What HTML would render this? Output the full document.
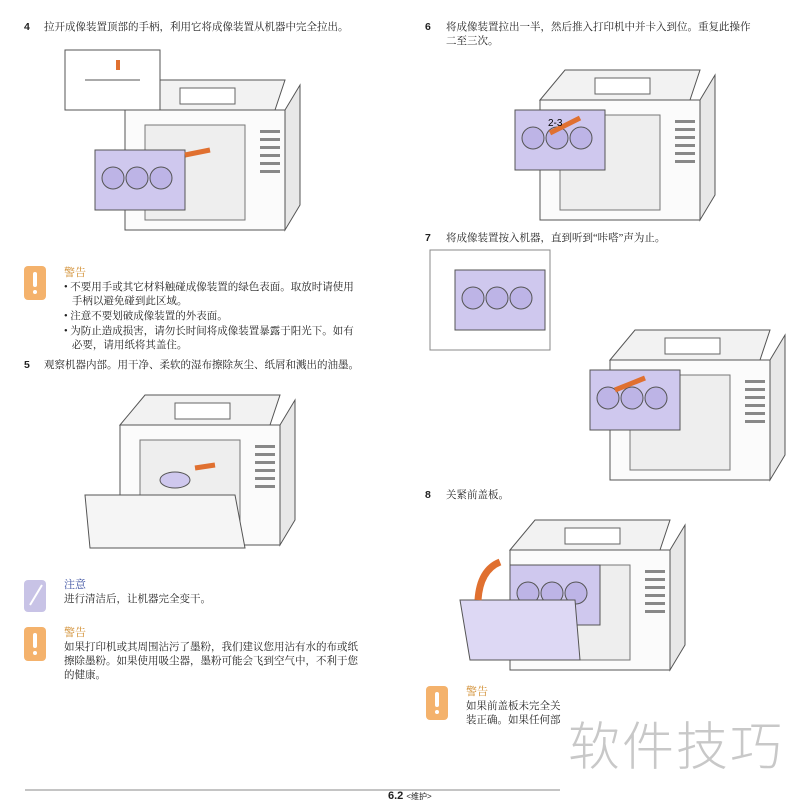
<!DOCTYPE html>
<html><head><meta charset="utf-8"><style>
body{margin:0;width:800px;height:800px;background:#fff;position:relative;overflow:hidden;font-family:"Liberation Serif","Noto Serif CJK SC",serif;color:#222}
.t{position:absolute;font-size:10.5px;line-height:14px}
.n{position:absolute;font-family:"Liberation Sans",sans-serif;font-weight:bold;font-size:10.5px}
.h{color:#d08a2a;font-size:11px}
.hb{color:#3a4fa0;font-size:11px}
.warn{position:absolute;width:22px;height:34px;background:#f4b26c;border-radius:4px}
.warn:after{content:"";position:absolute;left:9px;top:6px;width:4px;height:15px;background:#fff;border-radius:2px}
.warn:before{content:"";position:absolute;left:9px;top:24px;width:4px;height:4px;background:#fff;border-radius:2px}
svg{position:absolute;left:0;top:0}
</style></head><body>
<svg width="800" height="800">
<defs>
<g id="pr">
<path d="M0 40 L150 40 L160 10 L25 10 Z" fill="#f2f2f2" stroke="#555"/>
<rect x="0" y="40" width="160" height="120" fill="#fbfbfb" stroke="#555"/>
<path d="M160 40 L175 15 L175 135 L160 160 Z" fill="#e8e8e8" stroke="#555"/>
<rect x="55" y="18" width="55" height="16" fill="#fff" stroke="#666"/>
<rect x="20" y="55" width="100" height="95" fill="#eee" stroke="#777"/>
<g fill="#888"><rect x="135" y="60" width="20" height="3"/><rect x="135" y="68" width="20" height="3"/><rect x="135" y="76" width="20" height="3"/><rect x="135" y="84" width="20" height="3"/><rect x="135" y="92" width="20" height="3"/><rect x="135" y="100" width="20" height="3"/></g>
</g>
<g id="cart">
<rect x="0" y="0" width="90" height="60" fill="#cfc8ee" stroke="#555"/>
<circle cx="18" cy="28" r="11" fill="#bdb4e6" stroke="#555"/><circle cx="42" cy="28" r="11" fill="#bdb4e6" stroke="#555"/><circle cx="66" cy="28" r="11" fill="#bdb4e6" stroke="#555"/>
</g>
</defs>
<!-- img1 -->
<use href="#pr" x="125" y="70"/>
<use href="#cart" x="95" y="150"/>
<rect x="65" y="50" width="95" height="60" fill="#fff" stroke="#555"/>
<path d="M85 80 L140 80" stroke="#555"/><path d="M118 70 L118 60" stroke="#e07030" stroke-width="4"/>
<path d="M185 155 L210 150" stroke="#e07030" stroke-width="5"/>
<!-- img2 -->
<use href="#pr" x="540" y="60"/>
<use href="#cart" x="515" y="110"/>
<path d="M550 133 L580 118" stroke="#e07030" stroke-width="5"/>
<text x="548" y="126" font-size="10" font-family="Liberation Sans">2-3</text>
<!-- img3 -->
<use href="#pr" x="120" y="385"/>
<path d="M85 495 L235 495 L245 548 L90 548 Z" fill="#f5f5f5" stroke="#555"/>
<ellipse cx="175" cy="480" rx="15" ry="8" fill="#cfc8ee" stroke="#555"/>
<path d="M195 468 L215 465" stroke="#e07030" stroke-width="5"/>
<!-- img4 -->
<rect x="430" y="250" width="120" height="100" fill="#fff" stroke="#888"/>
<use href="#cart" x="455" y="270"/>
<use href="#pr" x="610" y="320"/>
<use href="#cart" x="590" y="370"/>
<path d="M615 390 L645 378" stroke="#e07030" stroke-width="5"/>
<!-- img5 -->
<use href="#pr" x="510" y="510"/>
<use href="#cart" x="510" y="565"/>
<path d="M460 600 L575 600 L580 660 L470 660 Z" fill="#ddd8f4" stroke="#555"/>
<path d="M478 600 Q480 570 500 562" stroke="#e07030" stroke-width="7" fill="none"/>
<!-- note icon -->
<rect x="24" y="580" width="22" height="32" rx="4" fill="#c8c3e6"/>
<path d="M30 605 L42 585" stroke="#fff" stroke-width="2"/>
<line x1="25" y1="790" x2="560" y2="790" stroke="#888"/>
</svg>
<div class="n" style="left:24px;top:21px">4</div>
<div class="t" style="left:44px;top:21px">拉开成像装置顶部的手柄，利用它将成像装置从机器中完全拉出。</div>
<div class="n" style="left:425px;top:21px">6</div>
<div class="t" style="left:446px;top:21px">将成像装置拉出一半，然后推入打印机中并卡入到位。重复此操作<br>二至三次。</div>
<div class="warn" style="left:24px;top:266px"></div>
<div class="t" style="left:64px;top:266px"><span class="h">警告</span><br>• 不要用手或其它材料触碰成像装置的绿色表面。取放时请使用<br>&nbsp;&nbsp;&nbsp;手柄以避免碰到此区域。</div>
<div class="t" style="left:64px;top:310px">• 注意不要划破成像装置的外表面。</div>
<div class="t" style="left:64px;top:325px">• 为防止造成损害，请勿长时间将成像装置暴露于阳光下。如有<br>&nbsp;&nbsp;&nbsp;必要，请用纸将其盖住。</div>
<div class="n" style="left:24px;top:359px">5</div>
<div class="t" style="left:44px;top:359px">观察机器内部。用干净、柔软的湿布擦除灰尘、纸屑和溅出的油墨。</div>
<div class="n" style="left:425px;top:232px">7</div>
<div class="t" style="left:446px;top:232px">将成像装置按入机器，直到听到“咔嗒”声为止。</div>
<div class="n" style="left:425px;top:489px">8</div>
<div class="t" style="left:446px;top:489px">关紧前盖板。</div>
<div class="t" style="left:64px;top:578px"><span class="hb">注意</span><br>进行清洁后，让机器完全变干。</div>
<div class="warn" style="left:24px;top:627px"></div>
<div class="t" style="left:64px;top:626px"><span class="h">警告</span><br>如果打印机或其周围沾污了墨粉，我们建议您用沾有水的布或纸<br>擦除墨粉。如果使用吸尘器，墨粉可能会飞到空气中，不利于您<br>的健康。</div>
<div class="warn" style="left:426px;top:686px"></div>
<div class="t" style="left:466px;top:685px;width:96px;overflow:hidden;white-space:nowrap"><span class="h">警告</span><br>如果前盖板未完全关<br>装正确。如果任何部</div>
<div style="position:absolute;left:568px;top:705px;font-family:'Noto Sans CJK SC',sans-serif;font-size:52px;color:#c8c8c8;letter-spacing:2px;font-weight:300">软件技巧</div>
<div style="position:absolute;left:388px;top:790px;font-family:'Liberation Sans',sans-serif;font-size:11px;font-weight:bold">6.2 <span style="font-weight:normal;font-size:8px">&lt;维护&gt;</span></div>
</body></html>
